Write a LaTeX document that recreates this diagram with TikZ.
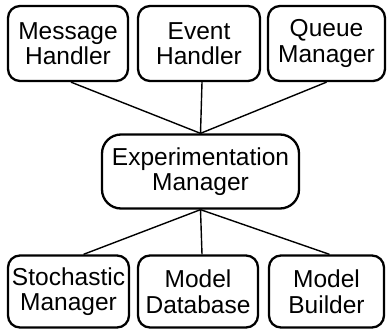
\documentclass[tikz,border=0pt]{standalone}
\usepackage{fontspec}
\setmainfont{Liberation Sans}
\begin{document}
\begin{tikzpicture}[x=1pt,y=-1pt,
  module/.style={draw=black, line width=2.3pt, rounded corners=12pt,
    minimum width=120pt, minimum height=75pt, align=center, inner sep=0pt,
    font=\fontsize{24.5}{25.5}\selectfont},
  hub/.style={module, minimum width=197pt, minimum height=74pt, rounded corners=19pt},
  link/.style={draw=black, line width=1.4pt}]
\useasboundingbox (0,0) rectangle (387,332);
% upper tier
\node[module] (mh) at (68,43.5) {Message\\Handler};
\node[module, minimum width=122pt] (eh) at (199,43.5) {Event\\Handler};
\node[module, minimum width=117pt] (qm) at (326.5,43.5) {Queue\\Manager};
% central manager
\node[hub] (em) at (200.5,171.5) {Experimentation\\Manager};
% lower tier
\node[module, minimum width=121pt, minimum height=72pt] (sm) at (68.5,291.5) {Stochastic\\Manager};
\node[module, minimum height=72pt] (md) at (198,291.5) {Model\\Database};
\node[module, minimum width=115pt, minimum height=72pt] (mb) at (326.5,291.5) {Model\\Builder};
% connectors
\draw[link] ([xshift=3pt]mh.south) -- (em.north);
\draw[link] ([xshift=3pt]eh.south) -- (em.north);
\draw[link] ([xshift=0pt]qm.south) -- (em.north);
\draw[link] (em.south) -- ([xshift=15pt]sm.north);
\draw[link] (em.south) -- ([xshift=4pt]md.north);
\draw[link] (em.south) -- ([xshift=3pt]mb.north);
\end{tikzpicture}
\end{document}
